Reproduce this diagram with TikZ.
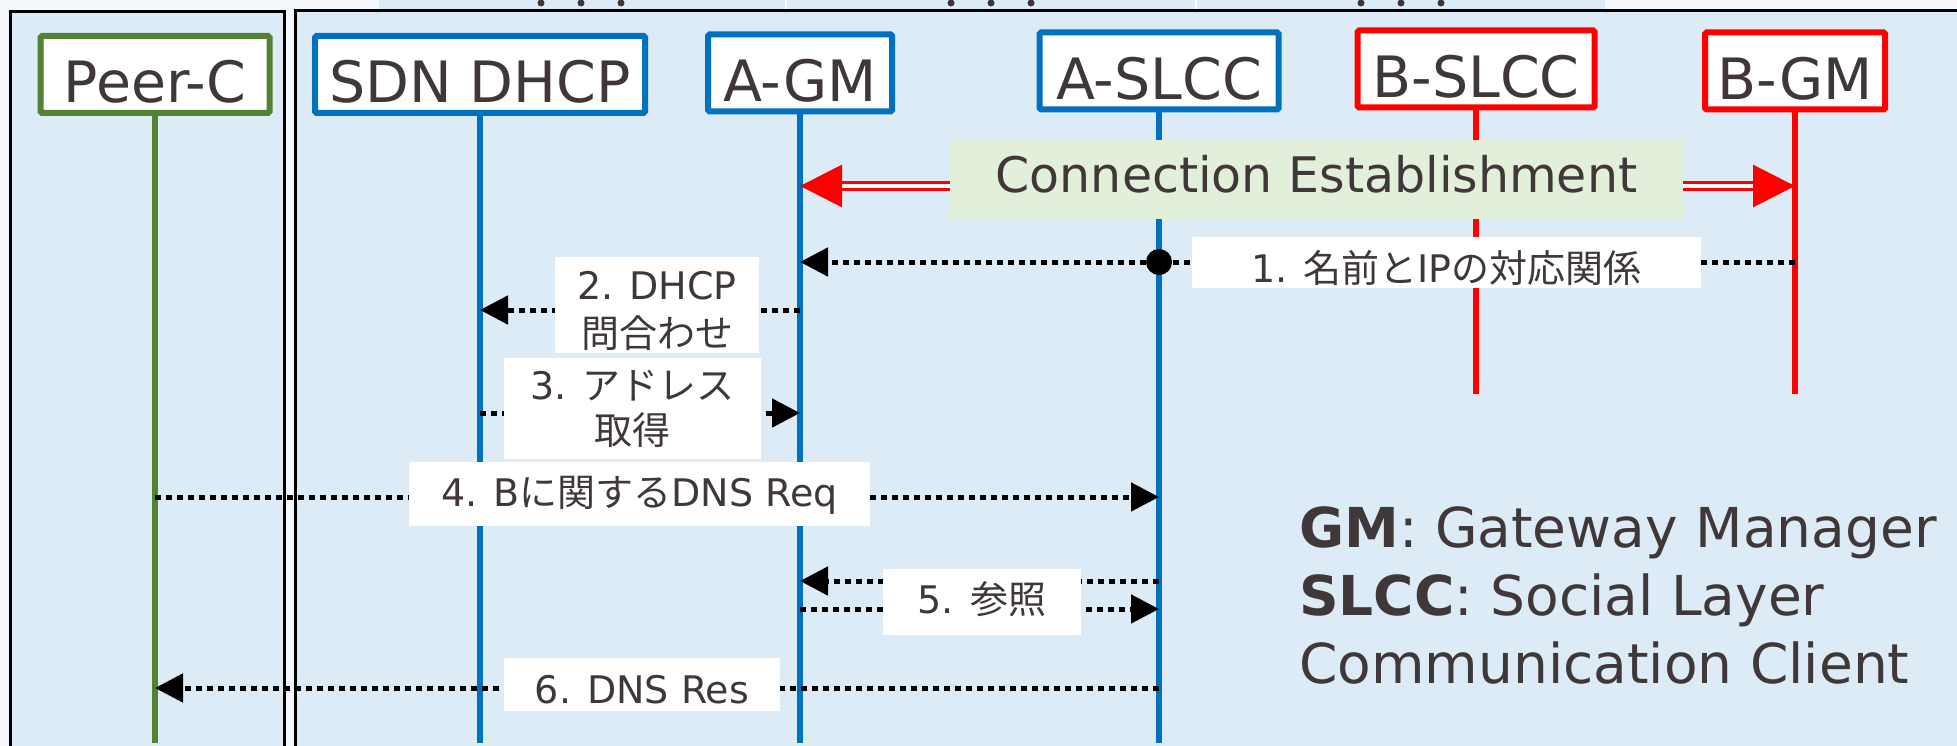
\documentclass[tikz,border=0pt]{standalone}
\usepackage{fontspec}
\setmainfont{DejaVu Sans}
\newfontfamily\jpfont{Noto Sans CJK JP}
\usetikzlibrary{arrows.meta}

\definecolor{slblue}{RGB}{0,112,192}
\definecolor{slred}{RGB}{255,0,0}
\definecolor{peergreen}{RGB}{84,130,53}
\definecolor{panelblue}{RGB}{221,235,247}
\definecolor{pagewhite}{RGB}{243,247,252}
\definecolor{estgreen}{RGB}{226,239,218}
\definecolor{inkgray}{RGB}{64,56,56}

\begin{document}
\begin{tikzpicture}[x=1pt,y=-1pt,
    lifeline/.style={line width=6pt},
    msg/.style={draw=black,line width=5pt,dash pattern=on 6pt off 5pt,
      -{Triangle[length=28pt,width=28pt]}},
    estab/.style={draw=slred,line width=3pt,double=white,double distance=3.5pt,
      -{Triangle[length=42pt,width=42pt]}},
    frame/.style={draw=black,line width=3pt,fill=panelblue}]

      \useasboundingbox (0,0) rectangle (1957,746);
      \clip (0,0) rectangle (1957,746);
      \fill[pagewhite] (0,0) rectangle (1957,746);

      % cut-off strip at the top
      \fill[panelblue] (379,0) rectangle (1605,10);
      \draw[white,line width=2pt] (786,0) -- (786,10) (1196,0) -- (1196,10);
      \foreach \x in {541,581,621,951,991,1031,1361,1401,1441}
        \fill[inkgray] (\x,3) circle (3.5pt);

      \draw[frame] (10,12) rectangle (284,770);
      \draw[frame] (295,10.5) rectangle (1980,770);

      \coordinate (bottom) at (0,743);
      \coordinate (bend)   at (0,394);

      \begin{scope}[every node/.style={draw,line width=6pt,fill=white,rounded corners=1.5pt,
          minimum height=77pt,inner sep=0pt,text height=57pt,text depth=0pt,
          font=\fontsize{57pt}{62pt}\selectfont,text=inkgray}]
        \node[draw=peergreen,minimum width=229pt] (peer)  at (155,74.5)  {Peer-C};
        \node[draw=slblue,minimum width=330pt]    (dhcp)  at (480,74.5)  {SDN DHCP};
        \node[draw=slblue,minimum width=184pt]    (agm)   at (800,73)    {A-GM};
        \node[draw=slblue,minimum width=239pt]    (aslcc) at (1159,71)   {A-SLCC};
        \node[draw=slred,minimum width=237pt]     (bslcc) at (1476,69)   {B-SLCC};
        \node[draw=slred,minimum width=180pt]     (bgm)   at (1795,71)   {B-GM};
      \end{scope}

      \draw[lifeline,peergreen] (peer.south)  -- (peer |- bottom);
      \draw[lifeline,slblue]    (dhcp.south)  -- (dhcp |- bottom);
      \draw[lifeline,slblue]    (agm.south)   -- (agm |- bottom);
      \draw[lifeline,slblue]    (aslcc.south) -- (aslcc |- bottom);
      \draw[lifeline,slred]     (bslcc.south) -- (bslcc |- bend);
      \draw[lifeline,slred]     (bgm.south)   -- (bgm |- bend);

      \node[fill=estgreen,minimum width=733pt,minimum height=79pt,inner sep=0pt,
        text height=26pt,text depth=0pt,text=inkgray,
        font=\fontsize{49pt}{55pt}\selectfont] (conn) at (1316.5,179.5) {Connection Establishment};

      \coordinate (est) at (0,186);
      \draw[estab] (conn.west |- est) -- (agm |- est);
      \draw[estab] (conn.east |- est) -- (bgm |- est);

      % message levels
      \coordinate (m1) at (0,262);
      \coordinate (m2) at (0,310);
      \coordinate (m3) at (0,413);
      \coordinate (m4) at (0,497);
      \coordinate (m5a) at (0,581);
      \coordinate (m5b) at (0,609);
      \coordinate (m6) at (0,688);

      \draw[msg] (bgm |- m1)   -- (agm |- m1);
      \draw[msg] (agm |- m2)   -- (dhcp |- m2);
      \draw[msg] (dhcp |- m3)  -- (agm |- m3);
      \draw[msg] (peer |- m4)  -- (aslcc |- m4);
      \draw[msg] (aslcc |- m5a) -- (agm |- m5a);
      \draw[msg] (agm |- m5b)  -- (aslcc |- m5b);
      \draw[msg] (aslcc |- m6) -- (peer |- m6);
      \fill (aslcc |- m1) circle (13pt);

      \begin{scope}[every node/.style={fill=white,inner sep=0pt,text=inkgray,
          font=\fontsize{38pt}{45pt}\selectfont}]
        \node[minimum width=509pt,minimum height=51pt,text height=39pt,text depth=0pt]
          (l1) at (1446.5,262.5) {1. {\jpfont 名前と}IP{\jpfont の対応関係}};
        \node[minimum width=204pt,minimum height=96pt,align=center]
          (l2) at (657,305) {\rule{0pt}{40pt}2. DHCP\\[3pt]{\jpfont 問合わせ}};
        \node[minimum width=257pt,minimum height=101pt,align=center]
          (l3) at (632.5,408.5) {3. {\jpfont アドレス}\\{\jpfont 取得}};
        \node[minimum width=461pt,minimum height=64pt,text height=24pt,text depth=0pt]
          (l4) at (639.5,494) {4. B{\jpfont に関する}DNS Req};
        \node[minimum width=198pt,minimum height=66pt,text height=22pt,text depth=0pt]
          (l5) at (982,602) {5. {\jpfont 参照}};
        \node[minimum width=276pt,minimum height=53pt,text height=37pt,text depth=0pt]
          (l6) at (642,684.5) {6. DNS Res};
      \end{scope}

      \begin{scope}[every node/.style={anchor=base west,inner sep=0pt,text=inkgray,
          font=\fontsize{55pt}{60pt}\selectfont}]
        \node (gmkey)    at (1299,547) {\textbf{GM}: Gateway Manager};
        \node (slcckey)  at (1299,615) {\textbf{SLCC}: Social Layer};
        \node (slcckey2) at (1299,683) {Communication Client};
      \end{scope}

    \end{tikzpicture}
\end{document}
